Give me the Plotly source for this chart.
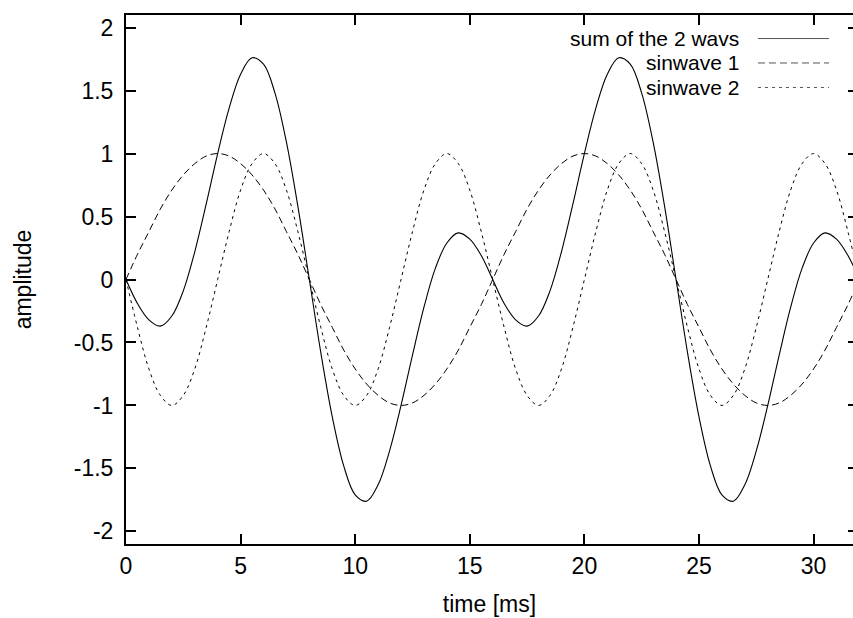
import plotly.graph_objects as go

# time samples [ms], every 0.5 ms from 0 to 32
time_ms = [i * 0.5 for i in range(65)]

# sinwave 1 (period 16 ms)
half1 = [0.00, 0.20, 0.38, 0.56, 0.71, 0.83, 0.92, 0.98, 1.00, 0.98, 0.92, 0.83, 0.71, 0.56, 0.38, 0.20,
         0.00, -0.20, -0.38, -0.56, -0.71, -0.83, -0.92, -0.98, -1.00, -0.98, -0.92, -0.83, -0.71, -0.56, -0.38, -0.20]
sinwave1 = half1 + half1 + [0.00]

# sinwave 2 (period 8 ms)
quarter2 = [0.00, -0.38, -0.71, -0.92, -1.00, -0.92, -0.71, -0.38, 0.00, 0.38, 0.71, 0.92, 1.00, 0.92, 0.71, 0.38]
sinwave2 = quarter2 * 4 + [0.00]

# sum of the 2 waves
half_sum = [0.00, -0.19, -0.32, -0.37, -0.29, -0.09, 0.22, 0.60, 1.00, 1.36, 1.63, 1.76, 1.71, 1.48, 1.09, 0.58,
            0.00, -0.58, -1.09, -1.48, -1.71, -1.76, -1.63, -1.36, -1.00, -0.60, -0.22, 0.09, 0.29, 0.37, 0.32, 0.19]
sum_waves = half_sum + half_sum + [0.00]

legend_names = ["sum of the 2 wavs", "sinwave 1", "sinwave 2"]
x_ticks = [0, 5, 10, 15, 20, 25, 30]
y_ticks = [-2, -1.5, -1, -0.5, 0, 0.5, 1, 1.5, 2]
y_tick_text = ["-2", "-1.5", "-1", "-0.5", "0", "0.5", "1", "1.5", "2"]

FONT = "Liberation Sans, Arial, Helvetica, sans-serif"
FS = 23
LEG_FS = 21
dash_styles = ["solid", "7px,4px", "3px,4px"]

fig = go.Figure()
fig.add_trace(go.Scatter(x=time_ms, y=sum_waves, mode="lines", line=dict(color="black", width=1.1, shape="spline", dash=dash_styles[0]),
                         name=legend_names[0], yaxis="y2"))
fig.add_trace(go.Scatter(x=time_ms, y=sinwave1, mode="lines", line=dict(color="black", width=1, shape="spline", dash=dash_styles[1]),
                         name=legend_names[1]))
fig.add_trace(go.Scatter(x=time_ms, y=sinwave2, mode="lines", line=dict(color="black", width=1, shape="spline", dash=dash_styles[2]),
                         name=legend_names[2]))

# custom gnuplot-like legend (text right-aligned, sample line to the right)
legend_rows_y = [0.9555, 0.9093, 0.8630]
for name, dash, yy in zip(legend_names, dash_styles, legend_rows_y):
    fig.add_annotation(x=0.8446, y=yy, xref="paper", yref="paper", text=name, showarrow=False,
                       xanchor="right", yanchor="middle", borderpad=0,
                       font=dict(family=FONT, size=LEG_FS, color="black"))
    fig.add_shape(type="line", xref="paper", yref="paper", x0=0.8693, x1=0.967, y0=yy, y1=yy,
                  line=dict(color="#555555", width=1, dash=dash))

axis_common = dict(ticks="inside", ticklen=10, tickwidth=1.5, tickcolor="black", showgrid=False, zeroline=False,
                   tickfont=dict(family=FONT, size=FS, color="black"))

fig.update_layout(
    width=853, height=618,
    margin=dict(l=126, r=0, t=15, b=74),
    paper_bgcolor="white", plot_bgcolor="white",
    showlegend=False,
    xaxis=dict(range=[0, 31.72], tickvals=x_ticks, showline=True, linecolor="black", linewidth=2, mirror="ticks",
               title=dict(text="time [ms]", font=dict(family=FONT, size=FS, color="black"), standoff=18),
               **axis_common),
    yaxis=dict(range=[-2.1, 2.1], tickvals=y_ticks, ticktext=y_tick_text, showline=True, linecolor="black", linewidth=2,
               ticklabelstandoff=6,
               title=dict(text="amplitude", font=dict(family=FONT, size=FS, color="black"), standoff=36),
               **axis_common),
    yaxis2=dict(range=[-2.1, 2.1], tickvals=y_ticks, overlaying="y", side="right", showticklabels=False,
                showline=False, ticks="inside", ticklen=5, tickwidth=1.5, tickcolor="black", showgrid=False, zeroline=False),
)

fig.write_html("out.html")
